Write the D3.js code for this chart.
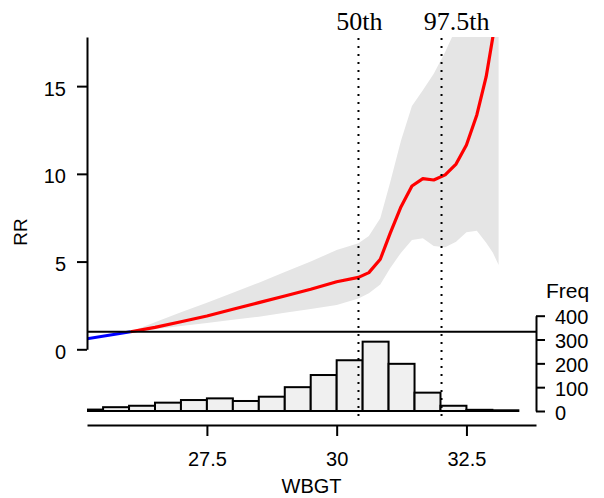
<!DOCTYPE html>
<html>
<head>
<meta charset="utf-8">
<script src="https://cdn.jsdelivr.net/npm/d3@7"></script>
<style>
  body { margin: 0; background: #fff; }
  text { font-family: "Liberation Sans", Arial, sans-serif; }
</style>
</head>
<body>
<div id="chart"></div>
<script>
// exposure-response values
const wbgt = [25.19, 26.03, 26.5, 27.0, 27.5, 28.0, 28.5, 29.0, 29.5, 30.0, 30.42, 30.62, 30.84, 31.03,
    31.24, 31.45, 31.66, 31.87, 32.09, 32.30, 32.50, 32.70, 32.88, 33.01, 33.12];
const rrFit = [0.6, 1.0, 1.25, 1.57, 1.9, 2.28, 2.66, 3.04, 3.42, 3.85, 4.1, 4.37, 5.13, 6.61,
    8.13, 9.31, 9.73, 9.65, 9.94, 10.56, 11.65, 13.36, 15.54, 17.82, 19.6];
const rrLow = [0.6, 1.0, 1.14, 1.33, 1.5, 1.69, 1.86, 2.08, 2.3, 2.53, 2.9, 3.19, 3.7, 4.62,
    5.51, 6.23, 6.33, 5.89, 5.82, 6.13, 6.67, 6.76, 6.08, 5.5, 4.81];
const rrHigh = [0.6, 1.0, 1.54, 2.11, 2.66, 3.23, 3.8, 4.4, 5.0, 5.66, 6.04, 6.46, 7.47, 9.5,
    11.9, 13.87, 14.76, 15.7, 16.95, 18.3, 19.5, 20.5, 21.5, 22, 22.5];
const refWbgt = 26.03;

// histogram of WBGT days
const binStart = [25.0, 25.5, 26.0, 26.5, 27.0, 27.5, 28.0, 28.5, 29.0, 29.5, 30.0, 30.5, 31.0, 31.5, 32.0, 32.5, 33.0];
const binCount = [6, 16, 22, 35, 46, 53, 42, 60, 100, 151, 213, 291, 198, 77, 22, 5, 3];
const binWidth = 0.5;

const pctLabels = ["50th", "97.5th"];
const pctValues = [30.42, 32.02];

const rrTicks = [0, 5, 10, 15];
const xTicks = [27.5, 30, 32.5];
const freqTicks = [0, 100, 200, 300, 400];

const W = 604, H = 498;
const svg = d3.select("#chart").append("svg")
    .attr("width", W)
    .attr("height", H);

const x = d3.scaleLinear().domain([25.19, 33.84]).range([87, 536]);
const y = d3.scaleLinear().domain([0, 17.8]).range([349.3, 37]);
const yf = d3.scaleLinear().domain([0, 400]).range([411, 315.7]);

svg.append("defs").append("clipPath")
    .attr("id", "plotclip")
    .append("rect")
    .attr("x", 87).attr("y", 37)
    .attr("width", 536 - 87).attr("height", 425 - 37);

const plot = svg.append("g").attr("clip-path", "url(#plotclip)");

const pts = wbgt.map((w, i) => ({ w: w, fit: rrFit[i], lo: rrLow[i], hi: rrHigh[i] }));

// confidence band
plot.append("path")
    .datum(pts.filter(d => d.w >= refWbgt))
    .attr("fill", "#e5e5e5")
    .attr("d", d3.area().x(d => x(d.w)).y0(d => y(d.lo)).y1(d => y(d.hi)));

// reference line at RR = 1
svg.append("line")
    .attr("x1", x.range()[0]).attr("x2", x.range()[1])
    .attr("y1", y(1)).attr("y2", y(1))
    .attr("stroke", "#000").attr("stroke-width", 2);

const line = d3.line().x(d => x(d.w)).y(d => y(d.fit));

plot.append("path")
    .datum(pts.filter(d => d.w <= refWbgt))
    .attr("fill", "none").attr("stroke", "#0000ff").attr("stroke-width", 3.2)
    .attr("d", line);

plot.append("path")
    .datum(pts.filter(d => d.w >= refWbgt))
    .attr("fill", "none").attr("stroke", "#ff0000").attr("stroke-width", 3.2)
    .attr("stroke-linejoin", "round")
    .attr("d", line);

// histogram
plot.selectAll(".bar")
    .data(binStart.map((b, i) => ({ b: b, n: binCount[i] })))
    .enter()
    .append("rect")
    .attr("class", "bar")
    .attr("x", d => x(d.b))
    .attr("y", d => yf(d.n))
    .attr("width", d => x(d.b + binWidth) - x(d.b))
    .attr("height", d => yf(0) - yf(d.n))
    .attr("fill", "#f0f0f0")
    .attr("stroke", "#000")
    .attr("stroke-width", 2);

// percentile lines
svg.selectAll(".pct")
    .data(pctValues)
    .enter()
    .append("line")
    .attr("class", "pct")
    .attr("x1", d => x(d)).attr("x2", d => x(d))
    .attr("y1", 38).attr("y2", 420)
    .attr("stroke", "#000").attr("stroke-width", 2)
    .attr("stroke-dasharray", "2,6");

svg.selectAll(".pctlab")
    .data(pctValues)
    .enter()
    .append("text")
    .attr("class", "pctlab")
    .attr("x", d => x(d))
    .attr("dx", (d, i) => i === 1 ? 15 : 1)
    .attr("y", 30)
    .attr("text-anchor", "middle")
    .style("font-family", "'Liberation Serif', 'Times New Roman', serif")
    .style("font-size", "26px")
    .text((d, i) => pctLabels[i]);

function styleAxis(g) {
    g.selectAll("path").attr("stroke", "#000").attr("stroke-width", 2);
    g.selectAll("line").attr("stroke", "#000").attr("stroke-width", 2);
    g.selectAll("text").style("font-size", "20px").attr("fill", "#000");
}

svg.append("g")
    .attr("transform", "translate(87,0)")
    .call(d3.axisLeft(y).tickValues(rrTicks).tickSize(10).tickSizeOuter(0).tickPadding(11))
    .call(styleAxis)
    .call(g => g.selectAll("text").attr("dy", "0.45em"));

svg.append("g")
    .attr("transform", "translate(0,425)")
    .call(d3.axisBottom(x).tickValues(xTicks).tickFormat(d3.format("")).tickSize(11).tickSizeOuter(0).tickPadding(16))
    .call(styleAxis);

svg.append("g")
    .attr("transform", "translate(536,0)")
    .call(d3.axisRight(yf).tickValues(freqTicks).tickSize(9).tickSizeOuter(0).tickPadding(10))
    .call(styleAxis)
    .call(g => g.selectAll("text").attr("dy", "0.4em"));

svg.append("text")
    .attr("transform", "translate(27,232) rotate(-90)")
    .attr("text-anchor", "middle")
    .style("font-size", "19px")
    .text("RR");

svg.append("text")
    .attr("x", 311.5).attr("y", 493)
    .attr("text-anchor", "middle")
    .style("font-size", "20px")
    .text("WBGT");

svg.append("text")
    .attr("x", 546).attr("y", 298)
    .style("font-size", "21px")
    .text("Freq");
</script>
</body>
</html>
